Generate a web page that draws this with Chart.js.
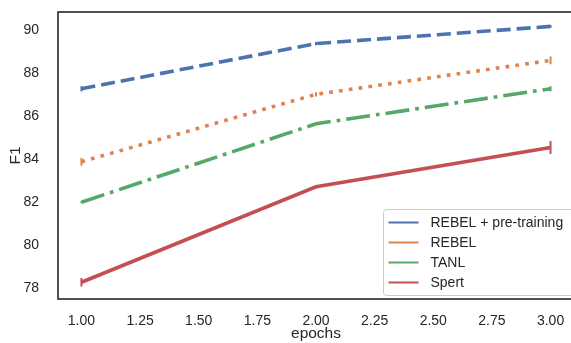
<!DOCTYPE html>
<html>
<head>
<meta charset="utf-8">
<script src="https://cdn.jsdelivr.net/npm/chart.js@4/dist/chart.umd.min.js"></script>
<style>
  html, body { margin: 0; padding: 0; background: #fff; overflow: hidden; }
  #wrap { width: 571px; height: 343px; overflow: hidden; position: relative; }
</style>
</head>
<body>
<div id="wrap"><canvas id="f1-chart" width="576" height="343"></canvas></div>
<script>
// data
const epochs = [1, 2, 3];
const xTicks = [1, 1.25, 1.5, 1.75, 2, 2.25, 2.5, 2.75, 3];
const yTicks = [78, 80, 82, 84, 86, 88, 90];
const seriesNames = ['REBEL + pre-training', 'REBEL', 'TANL', 'Spert'];
const rebelPre = [87.28, 89.38, 90.18];
const rebel = [83.88, 87.02, 88.6];
const tanl = [82.0, 85.65, 87.28];
const spert = [78.28, 82.72, 84.55];
// half-width of the little error bars at each point
const rebelPreErr = [0.12, 0.08, 0.06];
const rebelErr = [0.18, 0.1, 0.18];
const tanlErr = [0.04, 0.05, 0.12];
const spertErr = [0.2, 0.08, 0.3];

const colors = ['#4c72b0', '#dd8452', '#55a868', '#c44e52'];
const dashes = [[14, 6], [3.7, 6.2], [24, 6, 3.7, 6], []];
const values = [rebelPre, rebel, tanl, spert];
const errs = [rebelPreErr, rebelErr, tanlErr, spertErr];
const font = "'Liberation Sans', Arial, sans-serif";

let datasets = values.map(function (v, i) {
  return {
    label: seriesNames[i],
    data: epochs.map(function (e, j) { return { x: e, y: v[j] }; }),
    borderColor: colors[i],
    backgroundColor: colors[i],
    borderWidth: 3.6,
    borderDash: dashes[i],
    pointRadius: 0,
    tension: 0,
    errors: errs[i]
  };
});

const extras = {
  id: 'extras',
  afterDatasetsDraw: function (chart) {
    let ctx = chart.ctx, xs = chart.scales.x, ys = chart.scales.y, a = chart.chartArea;
    // error bars
    ctx.save();
    chart.data.datasets.forEach(function (ds) {
      ctx.strokeStyle = ds.borderColor;
      ctx.lineWidth = 2;
      ds.data.forEach(function (p, j) {
        let px = xs.getPixelForValue(p.x);
        ctx.beginPath();
        ctx.moveTo(px, ys.getPixelForValue(p.y - ds.errors[j]));
        ctx.lineTo(px, ys.getPixelForValue(p.y + ds.errors[j]));
        ctx.stroke();
      });
    });
    // frame
    ctx.strokeStyle = '#262626';
    ctx.lineWidth = 1.6;
    ctx.strokeRect(a.left, a.top, a.right - a.left, a.bottom - a.top);
    // legend in lower right
    let lx = 383.5, ly = 209.5, lw = 200, lh = 86;
    ctx.fillStyle = 'rgba(255,255,255,0.85)';
    ctx.strokeStyle = '#cccccc';
    ctx.lineWidth = 1;
    ctx.beginPath();
    ctx.roundRect(lx, ly, lw, lh, 3);
    ctx.fill();
    ctx.stroke();
    ctx.font = '14px ' + font;
    ctx.textBaseline = 'middle';
    chart.data.datasets.forEach(function (ds, i) {
      let y = ly + 13 + i * 20;
      ctx.strokeStyle = ds.borderColor;
      ctx.lineWidth = 2;
      ctx.beginPath();
      ctx.moveTo(lx + 5, y);
      ctx.lineTo(lx + 35, y);
      ctx.stroke();
      ctx.fillStyle = '#262626';
      ctx.fillText(ds.label, lx + 47, y + 1);
    });
    ctx.restore();
  }
};

new Chart(document.getElementById('f1-chart'), {
  type: 'line',
  data: { datasets: datasets },
  options: {
    responsive: false,
    animation: false,
    layout: { padding: { top: 12, right: 2, left: 0, bottom: 0 } },
    plugins: { legend: { display: false }, tooltip: { enabled: false } },
    scales: {
      x: {
        type: 'linear',
        min: 0.9,
        max: 3.1,
        grid: { display: false },
        border: { display: false },
        afterBuildTicks: function (s) { s.ticks = xTicks.map(function (v) { return { value: v }; }); },
        ticks: {
          padding: 6,
          maxRotation: 0,
          color: '#262626',
          font: { family: font, size: 14 },
          callback: function (v) { return v.toFixed(2); }
        },
        title: { display: true, text: 'epochs', color: '#262626', padding: { top: 3, bottom: 0 }, font: { family: font, size: 15.5 } },
        afterFit: function (s) { s.height = 44; s.paddingLeft = 0; s.paddingRight = 0; }
      },
      y: {
        min: 77.5,
        max: 90.85,
        grid: { display: false },
        border: { display: false },
        afterBuildTicks: function (s) { s.ticks = yTicks.map(function (v) { return { value: v }; }); },
        ticks: {
          padding: 11,
          color: '#262626',
          font: { family: font, size: 14 },
          callback: function (v) { return v; }
        },
        title: { display: true, text: 'F1', color: '#262626', padding: { top: 6, bottom: 8 }, font: { family: font, size: 15.5 } },
        afterFit: function (s) { s.width = 58; s.paddingTop = 0; s.paddingBottom = 0; }
      }
    }
  },
  plugins: [extras]
});
</script>
</body>
</html>
